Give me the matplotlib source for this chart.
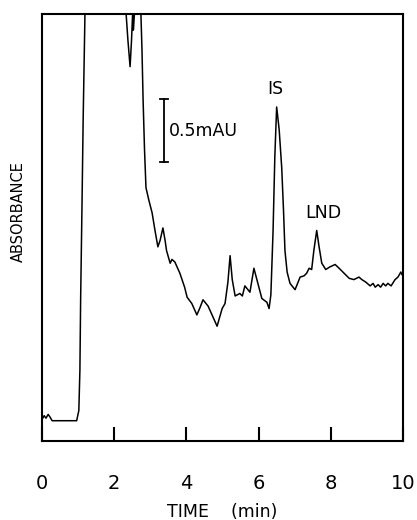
import numpy as np
import matplotlib
matplotlib.use("Agg")
import matplotlib.pyplot as plt

plt.rcParams['font.family'] = ['DejaVu Sans']

# chromatogram trace: time (min) and absorbance (mAU above baseline)
# values above ~3.2 are off-scale in the original (clipped at the top of the frame)
time_min = [0.00, 0.06, 0.11, 0.17, 0.22, 0.28, 0.96, 1.02, 1.05, 1.07, 1.11, 1.14, 1.19,
            1.30, 2.25, 2.33, 2.38, 2.44, 2.48, 2.51, 2.52, 2.53, 2.56, 2.65,
            2.74, 2.77, 2.80, 2.84, 2.88, 2.96, 3.05, 3.13, 3.21, 3.27, 3.35, 3.41, 3.45,
            3.55, 3.60, 3.68, 3.82, 3.95, 4.02, 4.15, 4.29, 4.38, 4.46, 4.60,
            4.71, 4.85, 4.99, 5.07, 5.15, 5.21, 5.27, 5.35, 5.48, 5.55, 5.62,
            5.76, 5.87, 5.98, 6.09, 6.23, 6.29, 6.34, 6.40, 6.45, 6.50, 6.57, 6.64,
            6.69, 6.73, 6.79, 6.87, 7.01, 7.15, 7.26, 7.33, 7.40, 7.47, 7.53, 7.61, 7.67,
            7.75, 7.86, 7.97, 8.12, 8.23, 8.37, 8.51, 8.64, 8.78, 8.86, 8.97, 9.09,
            9.17, 9.23, 9.31, 9.38, 9.45, 9.52, 9.58, 9.67, 9.78, 9.86, 9.94, 9.97]
absorb = [0.01, 0.04, 0.02, 0.05, 0.03, 0.00, 0.00, 0.08, 0.40, 0.96, 1.75, 2.39, 3.23,
          4.50, 4.50, 3.23, 3.02, 2.81, 3.02, 3.23, 3.40, 3.10, 3.23, 4.00,
          3.23, 2.94, 2.55, 2.15, 1.85, 1.75, 1.65, 1.51, 1.38, 1.43, 1.53, 1.43, 1.35,
          1.25, 1.28, 1.26, 1.17, 1.06, 0.98, 0.93, 0.84, 0.90, 0.96, 0.91,
          0.84, 0.75, 0.89, 0.93, 1.10, 1.31, 1.12, 0.99, 1.01, 0.99, 1.07,
          1.02, 1.21, 1.09, 0.97, 0.94, 0.89, 1.00, 1.50, 2.10, 2.49, 2.31, 2.01,
          1.67, 1.35, 1.18, 1.09, 1.04, 1.14, 1.15, 1.17, 1.21, 1.20, 1.35, 1.51, 1.39,
          1.25, 1.20, 1.22, 1.24, 1.21, 1.17, 1.13, 1.12, 1.14, 1.12, 1.10, 1.07,
          1.09, 1.06, 1.08, 1.06, 1.09, 1.07, 1.09, 1.07, 1.12, 1.14, 1.18, 1.16]

xticks = [0, 2, 4, 6, 8, 10]
peak_names = ["IS", "LND"]
peak_pos = [(6.45, 2.63), (7.78, 1.65)]
bar_time = 3.38
bar_lo, bar_hi = 2.05, 2.55   # 0.5 mAU scale bar

fig = plt.figure(figsize=(4.17, 5.2), dpi=100)
ax = fig.add_axes([42 / 417, 1 - 441 / 520, 361 / 417, 427 / 520])

ax.plot(time_min, absorb, color="black", lw=1.1)

# scale bar
ax.plot([bar_time, bar_time], [bar_lo, bar_hi], color="black", lw=1.3)
ax.plot([bar_time - 0.12, bar_time + 0.12], [bar_lo, bar_lo], color="black", lw=1.3)
ax.plot([bar_time - 0.12, bar_time + 0.12], [bar_hi, bar_hi], color="black", lw=1.3)
ax.text(bar_time + 0.13, (bar_lo + bar_hi) / 2, "0.5mAU", fontsize=12.5, va="center", ha="left")

for name, (tx, ty) in zip(peak_names, peak_pos):
    ax.text(tx, ty, name, fontsize=12.5, ha="center", va="center")

ax.set_xlim(0, 10)
ax.set_ylim(-0.161, 3.228)
ax.set_xticks(xticks)
ax.set_xticklabels([str(t) for t in xticks], fontsize=14)
ax.set_yticks([])
ax.tick_params(axis="x", direction="in", length=10, width=1.5, pad=24)
for s in ax.spines.values():
    s.set_linewidth(1.5)

ax.set_xlabel("TIME    (min)", fontsize=12.5, labelpad=7)
fig.text(18 / 417, 1 - 212 / 520, "ABSORBANCE", rotation=90, fontsize=10.5,
         ha="center", va="center")

fig.savefig("out.png", dpi=100)
